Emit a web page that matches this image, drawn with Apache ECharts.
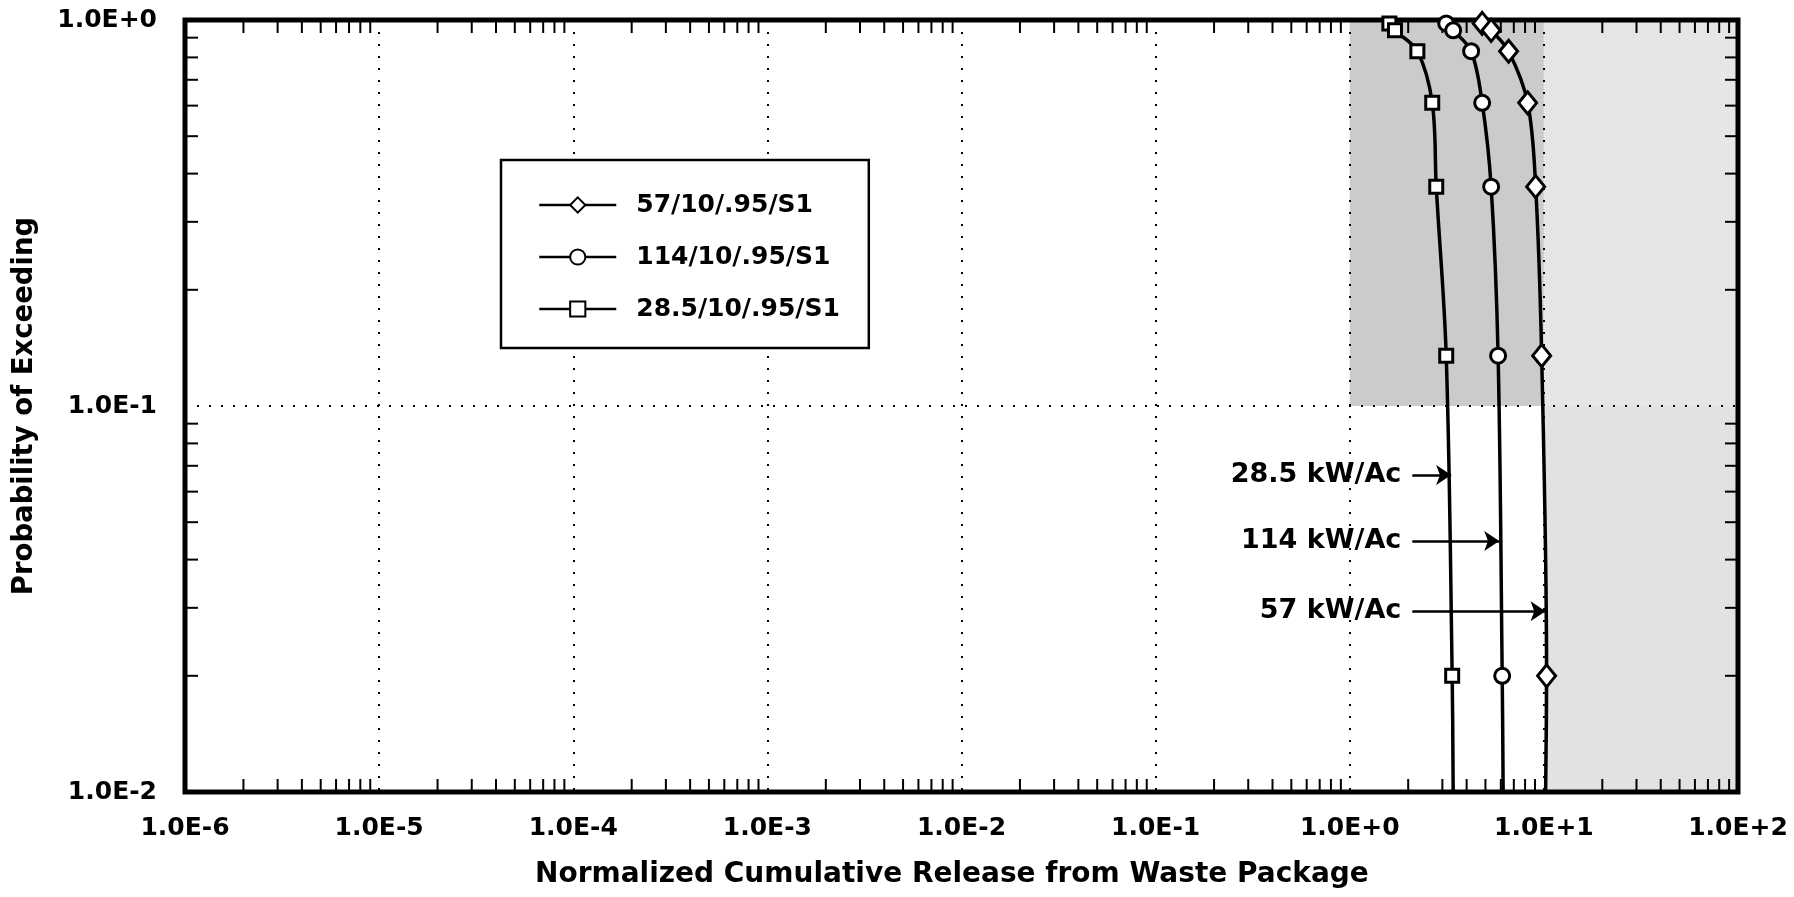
<!DOCTYPE html>
<html><head><meta charset="utf-8">
<script src="https://cdn.jsdelivr.net/npm/echarts@6/dist/echarts.min.js"></script>
<style>html,body{margin:0;padding:0;background:#fff}#c{width:1794px;height:897px}</style>
</head><body><div id="c"></div>
<script>
// ---------- data ----------
const xTickLabels = ['1.0E-6','1.0E-5','1.0E-4','1.0E-3','1.0E-2','1.0E-1','1.0E+0','1.0E+1','1.0E+2'];
const yTickLabels = ['1.0E-2','1.0E-1','1.0E+0'];
const seriesNames = ['57/10/.95/S1','114/10/.95/S1','28.5/10/.95/S1'];
const probability = [0.98, 0.94, 0.83, 0.61, 0.37, 0.135, 0.02];
const release57  = [4.81, 5.35, 6.58, 8.25, 9.07, 9.74, 10.33];
const release114 = [3.14, 3.41, 4.22, 4.81, 5.35, 5.81, 6.10];
const release28  = [1.60, 1.71, 2.23, 2.66, 2.79, 3.14, 3.37];
// where each curve meets the bottom of the plot
const bottomP = 0.01;
const bottom57 = 10.21, bottom114 = 6.17, bottom28 = 3.41;
// arrow annotations
const annotLabels = ['28.5 kW/Ac', '114 kW/Ac', '57 kW/Ac'];
const annotP     = [0.0663, 0.0447, 0.0294];
const annotFromX = [2.10, 2.10, 2.10];
const annotToX   = [3.33, 5.89, 10.2];
// shaded regions [x0, y0, x1, y1]
const shadeBoxes = [[1, 0.1, 10, 1], [10, 0.1, 100, 1], [10, 0.01, 100, 0.1]];
const shadeColors = ['#cbcbcb', '#e6e6e6', '#e2e2e2'];

// ---------- helpers ----------
const FONT = 'DejaVu Sans';
const xMinor = [], yMinor = [];
for (let k = -6; k <= 1; k++) for (let m = 2; m <= 9; m++) xMinor.push(m * Math.pow(10, k));
for (let k = -2; k <= -1; k++) for (let m = 2; m <= 9; m++) yMinor.push(m * Math.pow(10, k));
const L = 13;
function xTickRender(params, api) {
  const cs = params.coordSys;
  const x = api.coord([api.value(0), 0.1])[0];
  const st = {stroke:'#000', lineWidth:2};
  return {type:'group', children:[
    {type:'line', shape:{x1:x, y1:cs.y+cs.height, x2:x, y2:cs.y+cs.height-L}, style:st},
    {type:'line', shape:{x1:x, y1:cs.y, x2:x, y2:cs.y+L}, style:st}
  ]};
}
function yTickRender(params, api) {
  const cs = params.coordSys;
  const y = api.coord([1e-3, api.value(1)])[1];
  const st = {stroke:'#000', lineWidth:2};
  return {type:'group', children:[
    {type:'line', shape:{x1:cs.x, y1:y, x2:cs.x+L, y2:y}, style:st},
    {type:'line', shape:{x1:cs.x+cs.width, y1:y, x2:cs.x+cs.width-L, y2:y}, style:st}
  ]};
}
function curve(xs, bx) {
  const d = probability.map((p, i) => [xs[i], p]);
  d.push({value:[bx, bottomP], symbol:'none'});
  return d;
}
const lineCommon = {
  type:'line', smooth:0.35, z:5,
  lineStyle:{color:'#000', width:3.5},
  itemStyle:{color:'#fff', borderColor:'#000', borderWidth:3},
  emphasis:{disabled:true}
};

const chart = echarts.init(document.getElementById('c'));
chart.setOption({
  animation:false,
  backgroundColor:'#fff',
  grid:{left:185, right:56, top:20, bottom:105, show:true, borderColor:'#000', borderWidth:5, z:2},
  xAxis:{
    type:'log', logBase:10, min:1e-6, max:100, z:2,
    axisLine:{show:false}, axisTick:{show:false},
    splitLine:{show:true, lineStyle:{color:'#000', width:2, type:[2,10]}},
    axisLabel:{margin:24, showMinLabel:true, showMaxLabel:true, color:'#000', fontFamily:FONT, fontWeight:'bold', fontSize:25,
      formatter:v => xTickLabels[Math.round(Math.log10(v)) + 6]}
  },
  yAxis:{
    type:'log', logBase:10, min:0.01, max:1, z:2,
    axisLine:{show:false}, axisTick:{show:false},
    splitLine:{show:true, lineStyle:{color:'#000', width:2, type:[2,10]}},
    axisLabel:{margin:28, showMinLabel:true, showMaxLabel:true, color:'#000', fontFamily:FONT, fontWeight:'bold', fontSize:25,
      formatter:v => yTickLabels[Math.round(Math.log10(v)) + 2]},
    name:'Probability of Exceeding', nameLocation:'middle', nameRotate:90, nameGap:146,
    nameTextStyle:{color:'#000', fontFamily:FONT, fontWeight:'bold', fontSize:27.5}
  },
  legend:{
    data:seriesNames, orient:'vertical', left:501, top:160,
    itemWidth:77, itemHeight:19, itemGap:22,
    padding:[30,29,24,37], borderColor:'#000', borderWidth:2.5, backgroundColor:'#fff',
    textStyle:{fontFamily:FONT, fontWeight:'bold', fontSize:25, color:'#000', lineHeight:30, padding:[0,0,0,15]},
    lineStyle:{width:2.5}
  },
  graphic:[
    {type:'text', x:535, y:875, style:{text:'Normalized Cumulative Release from Waste Package',
      font:'bold 28px "DejaVu Sans"', fill:'#000', verticalAlign:'middle'}}
  ],
  series:[
    {type:'line', name:'shade', data:[], z:1, silent:true,
      markArea:{silent:true, data: shadeBoxes.map((b, i) => [
        {coord:[b[0], b[1]], itemStyle:{color:shadeColors[i]}}, {coord:[b[2], b[3]]}])}},
    {type:'custom', name:'xminor', data:xMinor.map(v => [v, 0.1]), renderItem:xTickRender, z:3, silent:true},
    {type:'custom', name:'yminor', data:yMinor.map(v => [1e-3, v]), renderItem:yTickRender, z:3, silent:true},
    Object.assign({}, lineCommon, {name:seriesNames[0], symbol:'diamond', symbolSize:[18,22], data:curve(release57, bottom57)}),
    Object.assign({}, lineCommon, {name:seriesNames[1], symbol:'circle', symbolSize:15, data:curve(release114, bottom114)}),
    Object.assign({}, lineCommon, {name:seriesNames[2], symbol:'rect', symbolSize:13, data:curve(release28, bottom28)}),
    {type:'line', name:'annot', data:[], z:4, silent:true,
      markLine:{silent:true, symbol:['none','arrow'], symbolSize:15,
        lineStyle:{color:'#000', width:2.5, type:'solid'},
        label:{show:true, position:'start', distance:11, formatter:'{b}', color:'#000',
          fontFamily:FONT, fontWeight:'bold', fontSize:27},
        data: annotLabels.map((t, i) => [
          {name:t, coord:[annotFromX[i], annotP[i]]}, {coord:[annotToX[i], annotP[i]]}])}}
  ]
});
</script></body></html>
